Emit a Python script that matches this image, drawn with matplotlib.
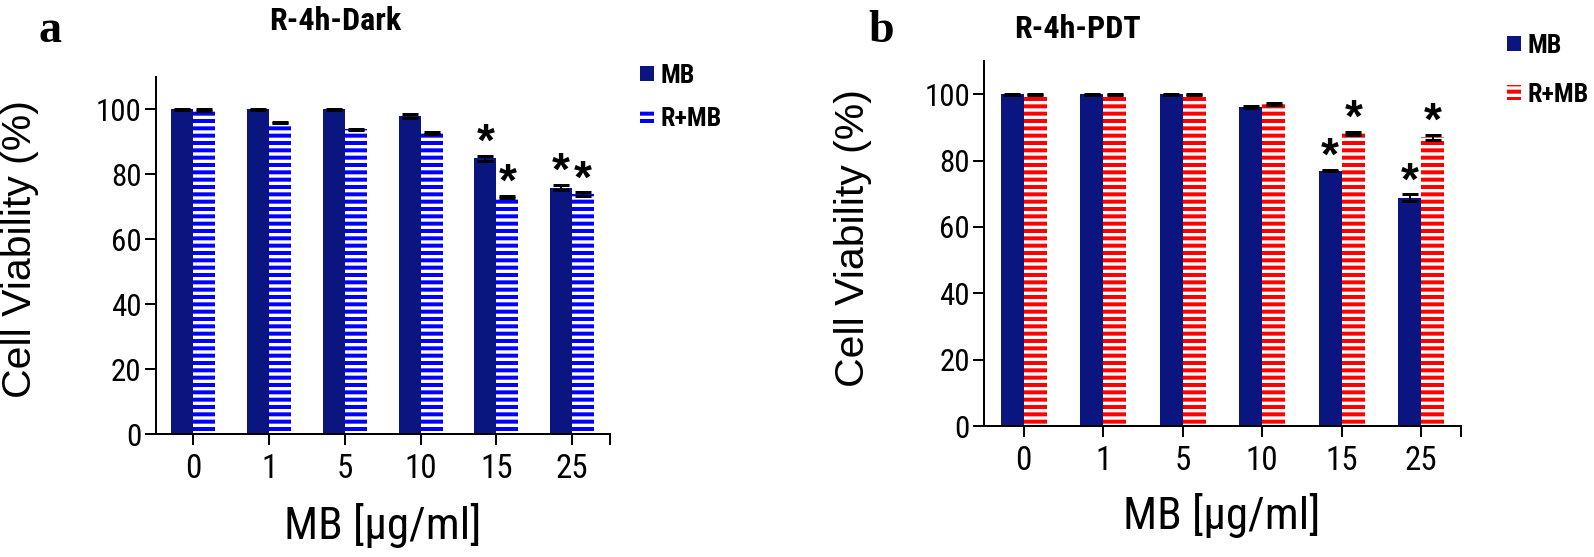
import numpy as np
import matplotlib
matplotlib.use('Agg')
import matplotlib.pyplot as plt

# DATOS
categorias = ['0', '1', '5', '10', '15', '25']

# panel a: R-4h-Dark
a_mb = [100.0, 100.0, 100.0, 98.0, 85.0, 75.9]
a_mb_err = [0.2, 0.2, 0.2, 0.6, 0.8, 0.8]
a_rmb = [99.8, 95.9, 93.9, 92.8, 73.0, 73.9]
a_rmb_err = [0.3, 0.2, 0.2, 0.3, 0.4, 0.6]
a_star_mb = [0, 0, 0, 0, 1, 1]
a_star_rmb = [0, 0, 0, 0, 1, 1]

# panel b: R-4h-PDT
b_mb = [100.0, 100.0, 100.0, 96.0, 77.0, 68.8]
b_mb_err = [0.2, 0.2, 0.2, 0.3, 0.3, 1.0]
b_rmb = [100.0, 100.0, 100.0, 97.0, 88.2, 87.0]
b_rmb_err = [0.2, 0.2, 0.2, 0.4, 0.5, 0.8]
b_star_mb = [0, 0, 0, 0, 1, 1]
b_star_rmb = [0, 0, 0, 0, 1, 1]

# GRAFICA
W, H = 1594, 557
DPI = 88
PX = 72 / DPI  # puntos por pixel

plt.rcParams['font.family'] = ['Roboto Condensed', 'Liberation Sans', 'DejaVu Sans']
plt.rcParams['hatch.linewidth'] = 4 * PX

azul_osc = '#0a1580'
ancho = 0.29

fig = plt.figure(figsize=(W / DPI, H / DPI), dpi=DPI)


def fx(px): return px / W
def fy(py): return 1 - py / H


def panel(caja, mb, mb_err, rmb, rmb_err, star_mb, star_rmb, raya,
          titulo, pos_tit, letra, pos_letra, pos_leg, esp_leg,
          pos_ylab, pos_xlab):
    ax = fig.add_axes([fx(caja[0]), fy(caja[3]), fx(caja[2] - caja[0]),
                       (caja[3] - caja[1]) / H])
    x = np.arange(len(categorias))
    b1 = ax.bar(x - ancho, mb, ancho, align='edge', color=azul_osc,
                linewidth=0, label='MB')
    b2 = ax.bar(x, rmb, ancho, align='edge', color='white', edgecolor=raya,
                hatch='--', linewidth=0, label='R+MB')
    ax.errorbar(x - ancho / 2, mb, yerr=mb_err, fmt='none', ecolor='black',
                elinewidth=2 * PX, capsize=8 * PX, capthick=3 * PX, zorder=5)
    ax.errorbar(x + ancho / 2, rmb, yerr=rmb_err, fmt='none', ecolor='black',
                elinewidth=2 * PX, capsize=8 * PX, capthick=3 * PX, zorder=5)

    # asteriscos de significancia
    for i in range(len(x)):
        if star_mb[i]:
            ax.annotate('*', (x[i] - ancho / 2, mb[i] + mb_err[i]),
                        xytext=(0, 0), textcoords='offset points',
                        ha='center', va='baseline', fontsize=46 * PX,
                        fontweight='bold', family='Liberation Sans')
        if star_rmb[i]:
            ax.annotate('*', (x[i] + ancho / 2, rmb[i] + rmb_err[i]),
                        xytext=(0, 0), textcoords='offset points',
                        ha='center', va='baseline', fontsize=46 * PX,
                        fontweight='bold', family='Liberation Sans')

    ax.set_xlim(-0.5, 5.5)
    ax.set_ylim(0, 110)
    ax.set_yticks(range(0, 101, 20))
    ax.set_xticks(x)
    ax.set_xticklabels(categorias, fontsize=33 * PX)
    ax.set_xticks([5.5], minor=True)
    ax.tick_params(axis='y', labelsize=31 * PX)
    ax.tick_params(which='both', direction='out', length=11 * PX,
                   width=2 * PX, color='black')
    ax.tick_params(axis='x', pad=8 * PX)
    ax.tick_params(axis='y', pad=3 * PX)
    for lado in ['top', 'right']:
        ax.spines[lado].set_visible(False)
    for lado in ['left', 'bottom']:
        ax.spines[lado].set_linewidth(2 * PX)

    ax.set_ylabel('Cell Viability (%)', fontsize=41 * PX,
                  family='Liberation Sans')
    ax.yaxis.set_label_coords(fx(pos_ylab[0]), fy(pos_ylab[1]),
                              transform=fig.transFigure)
    ax.set_xlabel('MB [\u03bcg/ml]', fontsize=45 * PX)
    ax.xaxis.set_label_coords(fx(pos_xlab[0]), fy(pos_xlab[1]),
                              transform=fig.transFigure)

    fig.text(fx(pos_tit[0]), fy(pos_tit[1]), titulo, ha='center',
             va='baseline', fontsize=32 * PX, fontweight='bold')
    fig.text(fx(pos_letra[0]), fy(pos_letra[1]), letra, ha='left',
             va='baseline', fontsize=46 * PX, fontweight='bold',
             family='Liberation Serif')

    ax.legend(handles=[b1, b2], loc='upper left',
              bbox_to_anchor=(fx(pos_leg[0]), fy(pos_leg[1])),
              bbox_transform=fig.transFigure, frameon=False, borderpad=0,
              borderaxespad=0, handlelength=0.52, handleheight=0.52,
              handletextpad=0.25, labelspacing=esp_leg,
              prop={'weight': 'bold', 'size': 26 * PX})
    return ax


panel([155.5, 77, 610, 434], a_mb, a_mb_err, a_rmb, a_rmb_err,
      a_star_mb, a_star_rmb, '#0000ff', 'R-4h-Dark', (335, 30),
      'a', (38, 42), (640, 64), 0.75, (39, 249), (383, 503))
panel([984, 61, 1461, 426], b_mb, b_mb_err, b_rmb, b_rmb_err,
      b_star_mb, b_star_rmb, '#ff0000', 'R-4h-PDT', (1078, 38),
      'b', (868, 42), (1507, 34), 0.95, (872, 238), (1222, 493))

plt.savefig('out.png', dpi=DPI)
